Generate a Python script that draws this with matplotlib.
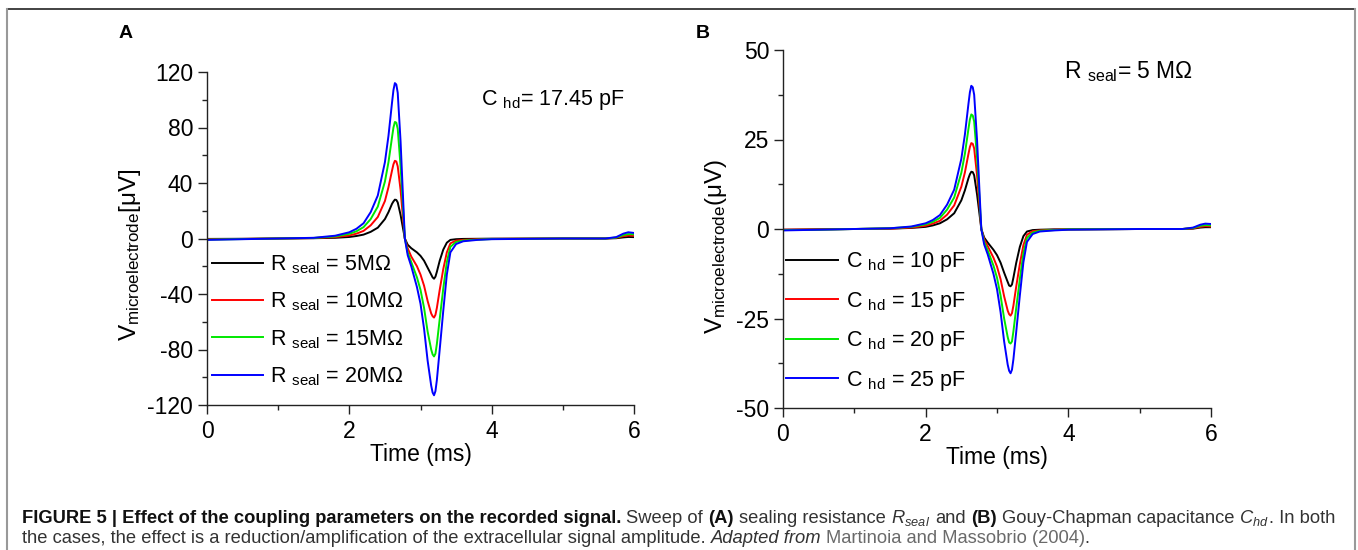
import matplotlib
matplotlib.use("Agg")
import matplotlib.pyplot as plt
from matplotlib.lines import Line2D
from matplotlib.ticker import MultipleLocator
from matplotlib.transforms import IdentityTransform
from matplotlib import font_manager as fm

# time axis (ms), shared by all traces
t_ms = [0, 0.5, 1.0, 1.5, 1.8, 2.0, 2.1, 2.2, 2.3, 2.4, 2.5, 2.55, 2.6, 2.62, 2.64,
        2.66, 2.68, 2.72, 2.75, 2.78, 2.82, 2.87, 2.95, 3.0, 3.05, 3.1, 3.15, 3.17,
        3.19, 3.21, 3.23, 3.27, 3.32, 3.37, 3.42, 3.5, 3.6, 3.8, 4.0, 5.0, 5.6, 5.75,
        5.85, 5.92, 6.0]

# panel A: sweep of R_seal (C_hd = 17.45 pF), values in uV
labels_A = ["R $_{\\rm seal}$ = 5M\u03a9", "R $_{\\rm seal}$ = 10M\u03a9",
            "R $_{\\rm seal}$ = 15M\u03a9", "R $_{\\rm seal}$ = 20M\u03a9"]
v_A_5 = [-0.3, -0.2, 0, 0.2, 0.5, 1.1, 1.8, 2.8, 4.8, 7.8, 14, 19, 25, 26.7, 28, 27.8,
         26, 17, 8.5, 0, -4.5, -7, -10, -12.5, -16, -21, -26, -28, -29, -27.5, -24,
         -16, -8, -3, -1, -0.5, -0.3, -0.2, -0.1, 0, 0, 0.2, 0.8, 1.1, 1]
v_A_10 = [-0.5, -0.3, 0, 0.3, 1, 2.2, 3.5, 5.5, 9.5, 15.5, 27, 37, 49, 53.5, 56, 55.5,
          52, 35, 17, 0, -7, -13, -20, -26, -34, -45, -54, -56, -57, -55, -50, -37,
          -22, -10, -3.5, -1.5, -1, -0.5, -0.3, 0, 0, 0.5, 1.7, 2.2, 2]
v_A_15 = [-0.8, -0.4, 0, 0.4, 1.5, 3.4, 5.2, 8.2, 14, 23, 41, 55, 73, 80, 84, 83.5, 79,
          52, 26, 0, -10, -17, -28, -37, -50, -67, -80, -83.5, -85, -83, -76, -58, -36,
          -17, -6, -2.5, -1.5, -0.8, -0.4, 0, 0, 0.7, 2.5, 3.2, 3]
v_A_20 = [-1, -0.5, 0, 0.5, 2, 4.5, 7, 11, 19, 31, 55, 74, 98, 107, 112, 111, 105, 70,
          35, 0, -12, -20, -35, -47, -65, -88, -106, -111, -113, -110, -102, -80, -52,
          -26, -10, -4, -2, -1, -0.5, 0, 0, 1, 3.5, 4.5, 4]

# panel B: sweep of C_hd (R_seal = 5 MOhm), values in uV
labels_B = ["C $_{\\rm hd}$ = 10 pF", "C $_{\\rm hd}$ = 15 pF",
            "C $_{\\rm hd}$ = 20 pF", "C $_{\\rm hd}$ = 25 pF"]
v_B_10 = [-0.2, -0.1, 0, 0.1, 0.3, 0.6, 1, 1.6, 2.7, 4.4, 8, 10.8, 14.2, 15.3, 16, 15.9,
          15, 9.7, 4.9, 0, -2.4, -3.8, -5.8, -7.3, -9.4, -12.2, -14.8, -15.8, -16, -15.5,
          -13.6, -9.4, -5, -2, -0.7, -0.3, -0.2, -0.1, -0.1, 0, 0, 0.1, 0.4, 0.5, 0.5]
v_B_15 = [-0.2, -0.1, 0, 0.1, 0.4, 0.9, 1.5, 2.3, 4, 6.6, 11.8, 15.8, 21, 22.9, 24, 23.8,
          22.5, 15, 7.5, 0, -2.9, -4.8, -8, -10.5, -14, -18.8, -22.8, -23.8, -24.2,
          -23.5, -21.4, -16, -9.8, -4.5, -1.6, -0.6, -0.4, -0.2, -0.1, 0, 0, 0.2, 0.6,
          0.8, 0.7]
v_B_20 = [-0.3, -0.2, 0, 0.2, 0.6, 1.3, 2, 3.1, 5.4, 8.8, 15.7, 21, 28, 30.6, 32, 31.7,
          30, 20, 10, 0, -3.6, -6, -10.2, -13.6, -18.6, -25, -30.2, -31.7, -32, -31.4,
          -28.6, -22, -14, -6.8, -2.5, -1, -0.5, -0.3, -0.1, 0, 0, 0.3, 0.9, 1.1, 1]
v_B_25 = [-0.4, -0.2, 0, 0.2, 0.7, 1.6, 2.5, 3.9, 6.8, 11, 19.6, 26.4, 35, 38.2, 40,
          39.6, 37.5, 25, 12.5, 0, -4.3, -7.1, -12.5, -16.8, -23.2, -31.4, -37.9, -39.6,
          -40.3, -39.3, -36.4, -28.6, -18.6, -9.3, -3.6, -1.4, -0.7, -0.4, -0.2, 0, 0,
          0.4, 1.2, 1.5, 1.4]

colors = ["#000000", "#ff0000", "#00e800", "#0000ff"]

plt.rcParams.update({
    "font.family": "Liberation Sans",
    "mathtext.fontset": "custom",
    "mathtext.rm": "Liberation Sans",
    "mathtext.it": "Liberation Sans:italic",
    "mathtext.bf": "Liberation Sans:bold",
    "axes.unicode_minus": False,
})

W, H = 1358, 550
fig = plt.figure(figsize=(W / 100, H / 100), dpi=100)

axA = fig.add_axes([207 / W, (H - 405) / H, 427 / W, 333 / H])
axB = fig.add_axes([783 / W, (H - 408) / H, 428 / W, 358 / H])


def style(ax, ymaj, ymin):
    for s in ["top", "right"]:
        ax.spines[s].set_visible(False)
    for s in ["left", "bottom"]:
        ax.spines[s].set_linewidth(1.0)
        ax.spines[s].set_color("#222222")
    ax.set_xlim(0, 6)
    ax.xaxis.set_major_locator(MultipleLocator(2))
    ax.xaxis.set_minor_locator(MultipleLocator(1))
    ax.yaxis.set_major_locator(MultipleLocator(ymaj))
    ax.yaxis.set_minor_locator(MultipleLocator(ymin))
    ax.tick_params(which="major", length=6.5, width=1, labelsize=16.5,
                   direction="out", color="#222222")
    ax.tick_params(which="minor", length=3.5, width=1, color="#222222")
    ax.tick_params(axis="y", pad=3.5)
    ax.tick_params(axis="x", pad=4)
    ax.set_xlabel("Time (ms)", fontsize=16.5, labelpad=0)


# panel A
for v, c, lab in zip([v_A_5, v_A_10, v_A_15, v_A_20], colors, labels_A):
    axA.plot(t_ms, v, color=c, lw=1.4, label=lab)
axA.set_ylim(-120, 120)
style(axA, 40, 20)
axA.set_ylabel("V$_{\\rm microelectrode}$[\u03bcV]", fontsize=17.5)
axA.yaxis.set_label_coords(-0.15, 0.45)
axA.legend(loc="upper left", bbox_to_anchor=(0.012, 0.455), frameon=False,
           fontsize=15.5, handlelength=2.35, handletextpad=0.35,
           labelspacing=0.68, borderpad=0, borderaxespad=0)
axA.text(0.642, 0.915, "C $_{\\rm hd}$= 17.45 pF", transform=axA.transAxes,
         fontsize=15.5, va="center", ha="left")

# panel B
for v, c, lab in zip([v_B_10, v_B_15, v_B_20, v_B_25], colors, labels_B):
    axB.plot(t_ms, v, color=c, lw=1.4, label=lab)
axB.set_ylim(-50, 50)
style(axB, 25, 12.5)
axB.set_ylabel("V$_{\\rm microelectrode}$(\u03bcV)", fontsize=17.5)
axB.yaxis.set_label_coords(-0.125, 0.45)
axB.legend(loc="upper left", bbox_to_anchor=(0.008, 0.44), frameon=False,
           fontsize=15.5, handlelength=2.4, handletextpad=0.35,
           labelspacing=0.72, borderpad=0, borderaxespad=0)
axB.text(0.657, 0.94, "R $_{\\rm seal}$= 5 M\u03a9", transform=axB.transAxes,
         fontsize=16.5, va="center", ha="left")

# panel letters
fig.text(119 / W, 1 - 33 / H, "A", fontsize=14, weight="bold", va="center")
fig.text(696 / W, 1 - 33 / H, "B", fontsize=14, weight="bold", va="center")

# frame around the figure
fig.add_artist(Line2D([7 / W, 1355 / W], [1 - 9 / H, 1 - 9 / H], color="#222222", lw=1.2))
fig.add_artist(Line2D([7 / W, 7 / W], [0, 1 - 9 / H], color="#999999", lw=1.5))
fig.add_artist(Line2D([1355 / W, 1355 / W], [0, 1 - 9 / H], color="#999999", lw=1.5))

# caption (rich text laid out piece by piece)
names = {f.name for f in fm.fontManager.ttflist}
cap_font = "Liberation Sans Narrow" if "Liberation Sans Narrow" in names else "Liberation Sans"
body = "#333333"
line1 = [
    ("FIGURE 5 | Effect of the coupling parameters on the recorded signal.", dict(weight="bold", color="#111111")),
    (" Sweep of ", dict(color=body)),
    ("(A)", dict(weight="bold", color="#111111")),
    (" sealing resistance ", dict(color=body)),
    ("$R_{seal}$", dict(color=body)),
    (" and ", dict(color=body)),
    ("(B)", dict(weight="bold", color="#111111")),
    (" Gouy-Chapman capacitance ", dict(color=body)),
    ("$C_{hd}$", dict(color=body)),
    (". In both", dict(color=body)),
]
line2 = [
    ("the cases, the effect is a reduction/amplification of the extracellular signal amplitude.", dict(color=body)),
    (" Adapted from", dict(style="italic", color=body)),
    (" Martinoia and Massobrio (2004)", dict(color="#6a6a6a")),
    (".", dict(color=body)),
]

renderer = fig.canvas.get_renderer()


def width_of(s, size, kw):
    t = fig.text(0, 0, "x" + s + "x", fontsize=size, family=cap_font, **kw)
    w1 = t.get_window_extent(renderer).width
    t.remove()
    t = fig.text(0, 0, "xx", fontsize=size, family=cap_font, **kw)
    w0 = t.get_window_extent(renderer).width
    t.remove()
    return w1 - w0


def draw_line(pieces, x0, y0, size):
    x = x0
    for s, kw in pieces:
        lead = s[: len(s) - len(s.lstrip())]
        dx = width_of(lead, size, kw) if lead else 0
        fig.text(x + dx, y0, s.strip(), fontsize=size, family=cap_font,
                 transform=IdentityTransform(), va="baseline", ha="left", **kw)
        x += width_of(s, size, kw)
    return x


size0 = 10.0
total = sum(width_of(s, size0, kw) for s, kw in line1)
cap_size = size0 * (1335 - 22) / total
draw_line(line1, 22, H - 523, cap_size)
draw_line(line2, 22, H - 543, cap_size)

fig.savefig("out.png", dpi=100)
